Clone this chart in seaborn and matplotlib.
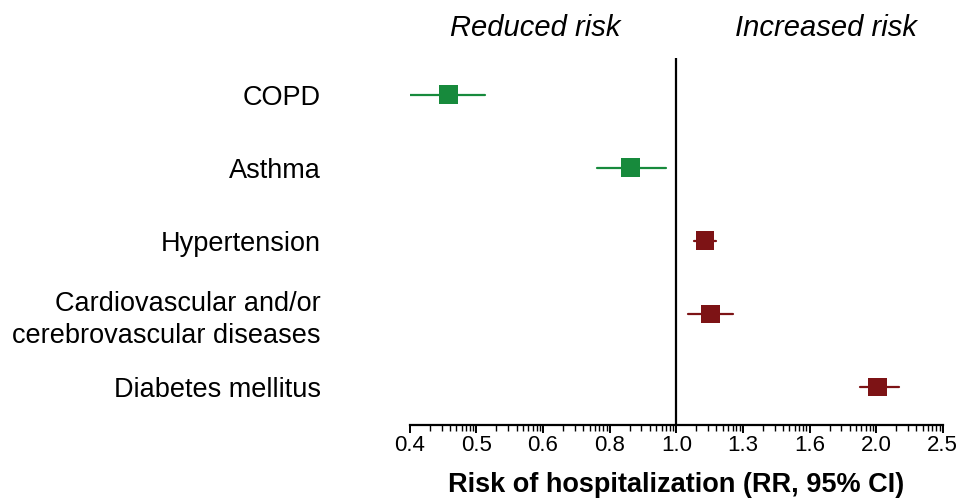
import matplotlib
matplotlib.use('Agg')
import matplotlib.pyplot as plt
import matplotlib.ticker as mticker
import numpy as np
import pandas as pd
import seaborn as sns

# data
conditions = ['COPD', 'Asthma', 'Hypertension',
              'Cardiovascular and/or\ncerebrovascular diseases',
              'Diabetes mellitus']
rr = [0.454, 0.853, 1.105, 1.125, 2.01]
ci_low = [0.395, 0.76, 1.064, 1.042, 1.888]
ci_high = [0.515, 0.964, 1.148, 1.217, 2.163]
effect = ['reduced', 'reduced', 'increased', 'increased', 'increased']
tick_values = [2 ** (k / 3) for k in range(-4, 5)]
tick_labels = ['0.4', '0.5', '0.6', '0.8', '1.0', '1.3', '1.6', '2.0', '2.5']

colors = {'reduced': '#178a3c', 'increased': '#7d1315'}


def main():
    df = pd.DataFrame({'condition': conditions, 'rr': rr, 'lo': ci_low,
                       'hi': ci_high, 'effect': effect})

    sns.set_style('white')
    plt.rcParams['font.family'] = ['Liberation Sans', 'DejaVu Sans']
    plt.rcParams['text.color'] = 'black'
    plt.rcParams['axes.labelcolor'] = 'black'
    plt.rcParams['xtick.color'] = 'black'
    plt.rcParams['ytick.color'] = 'black'

    fig = plt.figure(figsize=(9.62, 5), dpi=100)
    ax = fig.add_axes([0.426, 0.15, 0.554, 0.734])
    ax.set_xscale('log')

    # confidence interval lines
    for i, row in df.iterrows():
        ax.plot([row['lo'], row['hi']], [i, i], color=colors[row['effect']],
                lw=1.6, zorder=2)

    sns.scatterplot(data=df, x='rr', y='condition', hue='effect',
                    palette=colors, marker='s', s=180, edgecolor='none',
                    legend=False, ax=ax, zorder=3)

    ax.axvline(1.0, color='black', lw=1.6, zorder=1)

    ax.set_xlim(tick_values[0], tick_values[-1])
    ax.set_ylim(4.52, -0.5)
    ax.set_xticks(tick_values)
    ax.set_xticklabels(tick_labels, fontsize=16)
    # minor ticks, decade-style within each interval
    minor = [2 ** ((k + np.log10(m)) / 3) for k in range(-4, 4)
             for m in range(2, 10)]
    ax.set_xticks(minor, minor=True)
    ax.xaxis.set_minor_formatter(mticker.NullFormatter())
    ax.tick_params(axis='x', which='major', length=6, width=1.4,
                   direction='out', bottom=True, pad=1)
    ax.tick_params(axis='x', which='minor', length=4, width=1.0,
                   direction='out', bottom=True)
    ax.tick_params(axis='y', length=0, pad=64)
    for lab in ax.get_yticklabels():
        lab.set_fontsize(19.5)
        lab.set_horizontalalignment('right')
        lab.set_linespacing(1.3)

    for side in ['top', 'right', 'left']:
        ax.spines[side].set_visible(False)
    ax.spines['bottom'].set_linewidth(1.6)
    ax.spines['bottom'].set_color('black')

    ax.set_xlabel('Risk of hospitalization (RR, 95% CI)', fontsize=19.5,
                  fontweight='bold', labelpad=12)
    ax.set_ylabel('')

    fig.text(535 / 962, 1 - 28 / 500, 'Reduced risk', fontsize=21,
             style='italic', ha='center', va='center')
    fig.text(826 / 962, 1 - 28 / 500, 'Increased risk', fontsize=21,
             style='italic', ha='center', va='center')

    fig.savefig('out.png', dpi=100)
    plt.close(fig)


if __name__ == '__main__':
    main()
